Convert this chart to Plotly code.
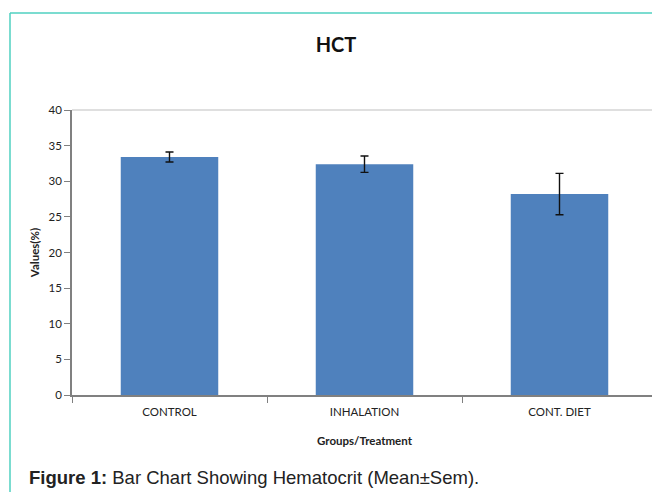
import plotly.graph_objects as go

categories = ["CONTROL", "INHALATION", "CONT. DIET"]
means = [33.4, 32.4, 28.2]
sems = [0.7, 1.15, 2.9]
y_ticks = [0, 5, 10, 15, 20, 25, 30, 35, 40]

# page is rendered with an 8px body margin, so work in shifted coordinates
OFF = 8
W, H = 660 - OFF, 492 - OFF
L, R, T, B = 72 - OFF, 657 - OFF, 110 - OFF, 395 - OFF

def px(x):
    return (x - OFF - L) / (R - L)

def py(y):
    return (B - (y - OFF)) / (B - T)

fig = go.Figure()
fig.add_trace(go.Bar(
    x=categories, y=means,
    marker=dict(color="#4f81bd", line=dict(width=0)),
    error_y=dict(type="data", array=sems, visible=True, color="#111111",
                 thickness=1.4, width=4),
))

font = "Lato, Open Sans, sans-serif"
fig.update_layout(
    width=W, height=H,
    margin=dict(l=L, r=W - R, t=T, b=H - B),
    paper_bgcolor="white", plot_bgcolor="white",
    bargap=0.5,
    showlegend=False,
    font=dict(family=font, color="#222222", size=11),
    title=dict(text="<b>HCT</b>", x=(336 - OFF) / W, xanchor="center",
               y=1 - (45 - OFF) / H, yanchor="middle",
               font=dict(family=font, size=20, color="#111111")),
    xaxis=dict(
        type="category", tickson="boundaries", ticks="outside", ticklen=6,
        tickcolor="#808080", showline=True, linecolor="#808080", linewidth=1.5,
        mirror=False, showgrid=False, tickfont=dict(size=11.5, color="#222222"),
        ticklabelstandoff=5,
        title=dict(text="<b>Groups/Treatment</b>", standoff=20,
                   font=dict(size=11.5, color="#222222")),
    ),
    yaxis=dict(
        range=[0, 40], tickvals=y_ticks, ticks="outside", ticklen=6,
        tickcolor="#808080", showline=True, linecolor="#808080", linewidth=1.5,
        showgrid=False, zeroline=False, tickfont=dict(size=11.5, color="#222222"),
        title=dict(text="<b>Values(%)</b>", standoff=7,
                   font=dict(size=11.5, color="#222222")),
    ),
)

# plot-area frame (top and right)
fig.add_shape(type="line", xref="paper", yref="paper", x0=0, x1=1, y0=1, y1=1,
              line=dict(color="#c0c0c0", width=1.2))
fig.add_shape(type="line", xref="paper", yref="paper", x0=1, x1=1, y0=0, y1=1,
              line=dict(color="#c0c0c0", width=1.5))

# teal outer border
teal = "#4fd1c0"
fig.add_shape(type="line", xref="paper", yref="paper", x0=px(10), x1=px(670),
              y0=py(13), y1=py(13), line=dict(color=teal, width=1.5))
fig.add_shape(type="line", xref="paper", yref="paper", x0=px(10), x1=px(10),
              y0=py(13), y1=py(500), line=dict(color=teal, width=1.5))

fig.add_annotation(
    xref="paper", yref="paper", x=px(27), y=py(477), xanchor="left", yanchor="middle",
    text="<b>Figure 1:</b> Bar Chart Showing Hematocrit (Mean±Sem).",
    showarrow=False, font=dict(family="Liberation Sans, Arial, sans-serif", size=18.5, color="#222222"),
)

fig.write_html("out.html")
